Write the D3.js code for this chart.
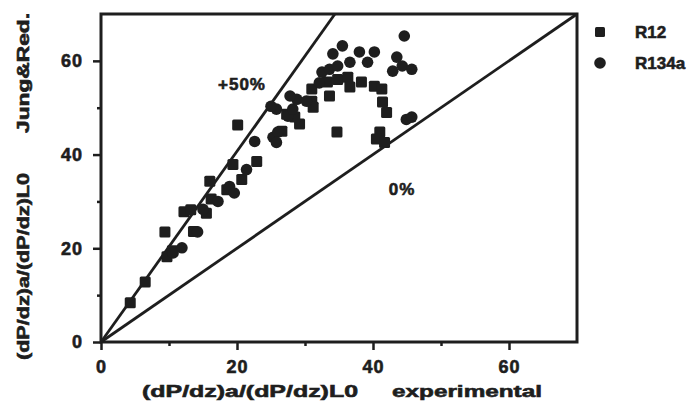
<!DOCTYPE html>
<html>
<head>
<meta charset="utf-8">
<script src="https://cdn.jsdelivr.net/npm/d3@7"></script>
<style>
  body { margin: 0; background: #fff; }
  text { font-family: "Liberation Sans", Arial, sans-serif; font-weight: bold; fill: #1e1e1e; stroke: #1e1e1e; stroke-width: 0.6px; }
</style>
</head>
<body>
<script>
// R12 points [experimental, Jung&Red.]
const r12 = [
  [4.3, 8.4], [6.5, 12.8], [9.4, 23.5], [9.7, 18.2], [10.5, 19.5], [12.2, 27.8],
  [13.2, 28.2], [13.6, 23.6], [15.5, 27.5], [16.2, 30.5], [18.5, 32.5], [16.0, 34.3],
  [19.4, 37.9], [20.7, 34.7], [22.9, 38.5], [20.1, 46.3], [27.3, 48.6], [29.2, 46.5],
  [28.5, 48.0], [26.6, 45.0], [31.0, 54.0], [31.0, 51.4], [31.2, 50.1], [33.3, 55.5],
  [33.6, 52.5], [34.8, 56.0], [36.3, 56.5], [36.6, 54.4], [38.3, 55.5], [40.2, 54.6],
  [41.3, 54.0], [41.4, 51.2], [42.0, 49.0], [34.7, 44.8], [41.0, 44.8], [40.5, 43.3],
  [41.7, 42.6]
];

// R134a points
const r134a = [
  [10.6, 19.0], [11.9, 20.1], [14.2, 23.5], [15.0, 28.3], [17.2, 30.0], [18.9, 33.2],
  [19.6, 31.8], [21.4, 36.8], [22.6, 42.8], [25.3, 43.7], [26.0, 44.8], [25.8, 42.6],
  [25.8, 49.7], [25.0, 50.3], [27.5, 48.2], [28.2, 49.7], [28.8, 51.8], [30.2, 51.4],
  [27.8, 52.5], [32.5, 57.6], [33.6, 58.2], [34.8, 58.9], [34.1, 61.5], [35.5, 63.2],
  [36.6, 59.7], [38.0, 61.9], [39.2, 59.7], [40.2, 61.9], [43.5, 60.8], [42.9, 57.8],
  [44.3, 58.9], [45.7, 58.2], [44.6, 65.3], [44.9, 47.5], [45.7, 48.0], [32.1, 55.3]
];

const majorTicks = [0, 20, 40, 60];
const minorTicks = [10, 30, 50];

// reference lines: 0% and +50%
const line0 = [[0, 0], [70, 70]];
const line50 = [[0, 0], [34.4, 70]];

const width = 694, height = 402;
const margin = { top: 14, right: 117, bottom: 60, left: 101 };

const svg = d3.select("body").append("svg")
  .attr("width", width)
  .attr("height", height);

const x = d3.scaleLinear().domain([0, 70]).range([margin.left, width - margin.right]);
const y = d3.scaleLinear().domain([0, 70]).range([height - margin.bottom, margin.top]);

const ink = "#1e1e1e";

// x axis ticks
const gx = svg.append("g").attr("transform", `translate(0,${y(0)})`);
gx.call(d3.axisBottom(x).tickValues(majorTicks).tickSize(8).tickPadding(10).tickFormat(d3.format("d")));
gx.append("g").call(d3.axisBottom(x).tickValues(minorTicks).tickSize(4).tickFormat(""));
gx.selectAll(".domain").remove();
gx.selectAll("line").attr("stroke", ink).attr("stroke-width", 2.5);
gx.selectAll("text").style("font-size", "18px").attr("letter-spacing", 1).attr("fill", ink);

// y axis ticks
const gy = svg.append("g").attr("transform", `translate(${x(0)},0)`);
gy.call(d3.axisLeft(y).tickValues(majorTicks).tickSize(8).tickPadding(10).tickFormat(d3.format("d")));
gy.append("g").call(d3.axisLeft(y).tickValues(minorTicks).tickSize(4).tickFormat(""));
gy.selectAll(".domain").remove();
gy.selectAll("line").attr("stroke", ink).attr("stroke-width", 2.5);
gy.selectAll("text").style("font-size", "18px").attr("letter-spacing", 1).attr("fill", ink);

// frame
svg.append("rect")
  .attr("x", x(0)).attr("y", y(70))
  .attr("width", x(70) - x(0)).attr("height", y(0) - y(70))
  .attr("fill", "none").attr("stroke", ink).attr("stroke-width", 3);

const lineGen = d3.line().x(d => x(d[0])).y(d => y(d[1]));
[line0, line50].forEach(l => {
  svg.append("path").attr("d", lineGen(l))
    .attr("fill", "none").attr("stroke", ink).attr("stroke-width", 2.8);
});

// points
svg.append("g").selectAll("rect")
  .data(r12)
  .join("rect")
  .attr("x", d => x(d[0]) - 5.5)
  .attr("y", d => y(d[1]) - 5.5)
  .attr("width", 11).attr("height", 11)
  .attr("rx", 1.5)
  .attr("fill", ink);

svg.append("g").selectAll("circle")
  .data(r134a)
  .join("circle")
  .attr("cx", d => x(d[0]))
  .attr("cy", d => y(d[1]))
  .attr("r", 5.8)
  .attr("fill", ink);

// line annotations
svg.append("text").attr("x", 242).attr("y", 90).attr("text-anchor", "middle")
  .style("font-size", "17px").attr("letter-spacing", 1).text("+50%");
svg.append("text").attr("x", 402).attr("y", 195).attr("text-anchor", "middle")
  .style("font-size", "17px").attr("letter-spacing", 1).text("0%");

// legend
const legend = svg.append("g").attr("transform", "translate(600,0)");
legend.append("rect").attr("x", -5).attr("y", 27).attr("width", 10).attr("height", 10)
  .attr("rx", 1.5).attr("fill", ink);
legend.append("text").attr("x", 35).attr("y", 38).style("font-size", "17px").text("R12");
legend.append("circle").attr("cx", 0).attr("cy", 63).attr("r", 5.8).attr("fill", ink);
legend.append("text").attr("x", 35).attr("y", 69).style("font-size", "17px").text("R134a");

// axis titles
svg.append("text").attr("x", 142).attr("y", 397)
  .attr("textLength", 216).attr("lengthAdjust", "spacingAndGlyphs")
  .style("font-size", "17px").text("(dP/dz)a/(dP/dz)L0");
svg.append("text").attr("x", 392).attr("y", 397)
  .attr("textLength", 150).attr("lengthAdjust", "spacingAndGlyphs")
  .style("font-size", "17px").text("experimental");

svg.append("text").attr("transform", "translate(29,360) rotate(-90)")
  .attr("textLength", 187).attr("lengthAdjust", "spacingAndGlyphs")
  .style("font-size", "16px").text("(dP/dz)a/(dP/dz)L0");
svg.append("text").attr("transform", "translate(29,133) rotate(-90)")
  .attr("textLength", 120).attr("lengthAdjust", "spacingAndGlyphs")
  .style("font-size", "16px").text("Jung&Red.");
</script>
</body>
</html>
